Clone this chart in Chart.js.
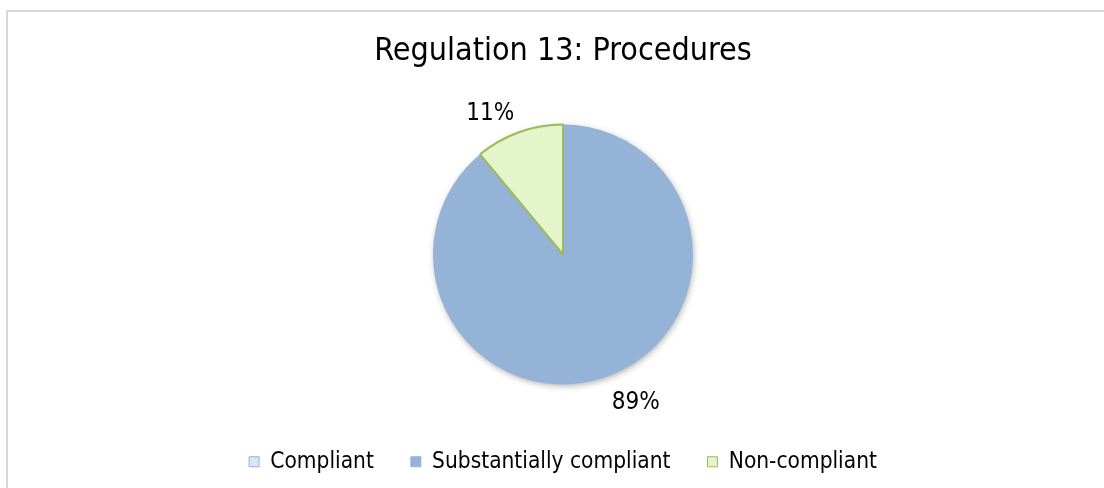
<!DOCTYPE html>
<html>
<head>
<meta charset="utf-8">
<script src="https://cdn.jsdelivr.net/npm/chart.js@4.4.1/dist/chart.umd.min.js"></script>
<style>
  html, body { margin: 0; padding: 0; background: #fff; overflow: hidden; }
  .frame {
    position: absolute; left: 6px; top: 10px; width: 1200px; height: 600px;
    border: 2px solid #d9d9d9; box-sizing: border-box;
  }
  .wrap { position: absolute; left: 0; top: 0; width: 1104px; height: 488px; }
</style>
</head>
<body>
<div class="frame"></div>
<div class="wrap"><canvas id="chartProcedures"></canvas></div>
<script>
(function() {
  'use strict';

  // Datos
  const TITLE = 'Regulation 13: Procedures';
  const categories = ['Compliant', 'Substantially compliant', 'Non-compliant'];
  const shares = [0, 89, 11];

  const FONT = '"DejaVu Sans Condensed", "DejaVu Sans", sans-serif';
  const BLUE = '#95b3d7';
  const GREEN_LINE = '#9bbb59';
  const legendFill = ['#dce6f2', BLUE, '#e4f5cc'];
  const legendStroke = ['#95b3d7', BLUE, GREEN_LINE];

  // Relleno degradado para el sector verde
  function sliceFill(context) {
    const i = context.dataIndex;
    if (i !== 2) return i === 0 ? '#dce6f2' : BLUE;
    const arc = context.element;
    const c = context.chart.ctx;
    if (!arc || !arc.outerRadius) return '#e4f5cc';
    const g = c.createLinearGradient(0, arc.y - arc.outerRadius, 0, arc.y);
    g.addColorStop(0, '#f6fded');
    g.addColorStop(1, '#d2f2a4');
    return g;
  }

  // Sombra suave bajo la tarta
  const pieShadow = {
    id: 'pieShadow',
    beforeDatasetsDraw(chart) {
      const arc = chart.getDatasetMeta(0).data[0];
      if (!arc) return;
      const c = chart.ctx;
      c.save();
      c.shadowColor = 'rgba(0,0,0,0.35)';
      c.shadowBlur = 7;
      c.shadowOffsetX = 1;
      c.shadowOffsetY = 2;
      c.fillStyle = BLUE;
      c.beginPath();
      c.arc(arc.x, arc.y, arc.outerRadius - 1, 0, Math.PI * 2);
      c.fill();
      c.restore();
    }
  };

  // Bajar la leyenda hasta su sitio
  const legendShift = {
    id: 'legendShift',
    afterLayout(chart) {
      if (!chart.legend) return;
      chart.legend.top += 21;
      chart.legend.bottom += 21;
    }
  };

  // Etiquetas de porcentaje fuera de la tarta
  const pctLabels = {
    id: 'pctLabels',
    afterDatasetsDraw(chart) {
      const meta = chart.getDatasetMeta(0);
      const c = chart.ctx;
      c.save();
      c.font = '24px ' + FONT;
      c.fillStyle = '#000';
      c.textAlign = 'center';
      c.textBaseline = 'middle';
      meta.data.forEach((arc, i) => {
        if (!shares[i]) return;
        const mid = (arc.startAngle + arc.endAngle) / 2 - 0.12;
        const d = arc.outerRadius + 32;
        c.fillText(shares[i] + '%', arc.x + Math.cos(mid) * d, arc.y + Math.sin(mid) * d + 4);
      });
      c.restore();
    }
  };

  const canvas = document.getElementById('chartProcedures');
  const ctx = canvas.getContext('2d');
  new Chart(ctx, {
    type: 'pie',
    data: {
      labels: categories,
      datasets: [{
        data: shares,
        backgroundColor: sliceFill,
        borderColor: ['#95b3d7', BLUE, GREEN_LINE],
        borderWidth: [0, 0, 2],
        radius: 130
      }]
    },
    options: {
      responsive: true,
      maintainAspectRatio: false,
      animation: false,
      layout: { padding: { left: 22, right: 0, top: 0, bottom: 26 } },
      plugins: {
        title: {
          display: true,
          text: TITLE,
          color: '#000',
          font: { family: FONT, size: 32, weight: 'normal', lineHeight: 1.2 },
          padding: { top: 32, bottom: 46.1 }
        },
        legend: {
          position: 'bottom',
          labels: {
            color: '#000',
            font: { family: FONT, size: 22.5 },
            boxWidth: 10,
            boxHeight: 10,
            padding: 37,
            generateLabels(chart) {
              return categories.map((name, i) => ({
                text: name,
                fillStyle: legendFill[i],
                strokeStyle: legendStroke[i],
                lineWidth: 1,
                hidden: false,
                index: i
              }));
            }
          }
        },
        tooltip: { enabled: false }
      }
    },
    plugins: [pieShadow, legendShift, pctLabels]
  });
})();
</script>
</body>
</html>
